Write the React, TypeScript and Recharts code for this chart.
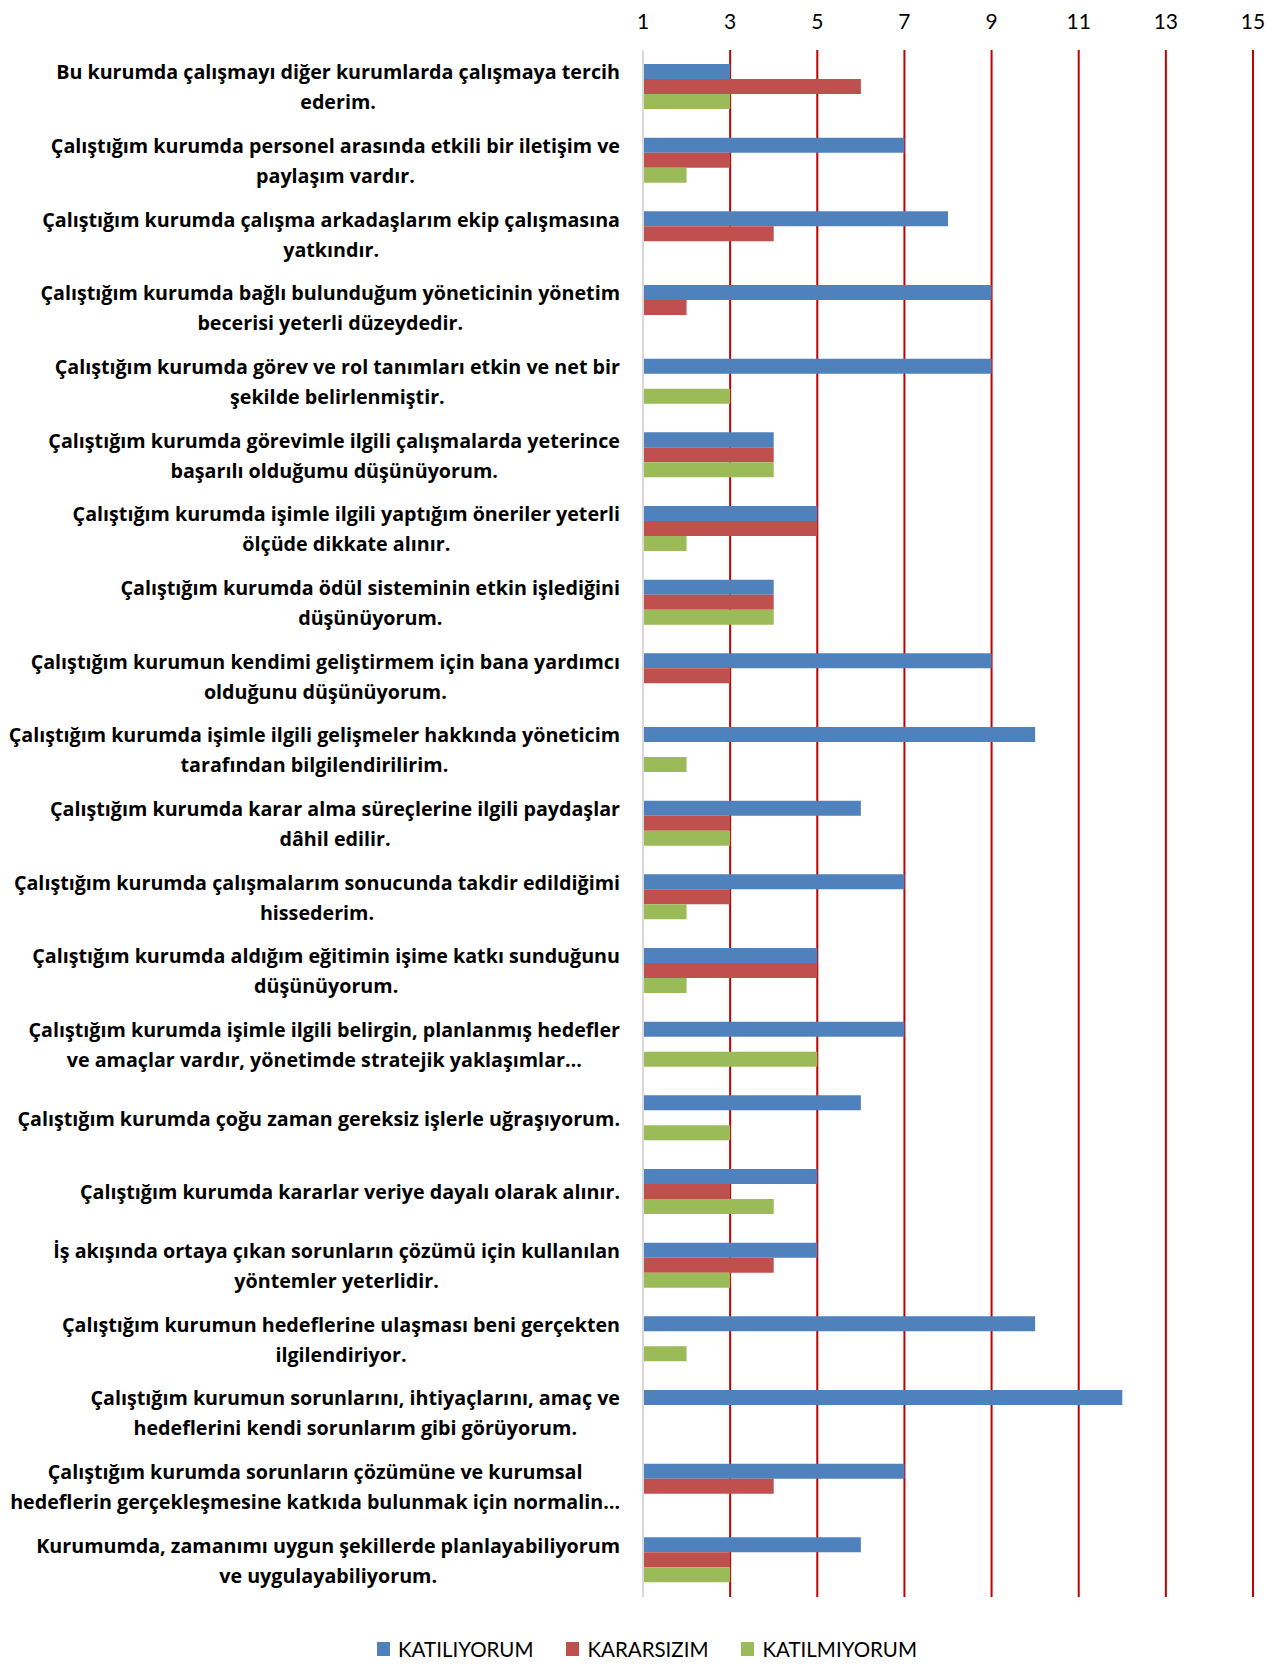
import React from 'react';
import { BarChart, Bar, XAxis, YAxis, CartesianGrid, Legend } from 'recharts';

const labels: string[][] = [
  ['Bu kurumda çalışmayı diğer kurumlarda çalışmaya tercih', 'ederim.'],
  ['Çalıştığım kurumda personel arasında etkili bir iletişim ve', 'paylaşım vardır.'],
  ['Çalıştığım kurumda çalışma arkadaşlarım ekip çalışmasına', 'yatkındır.'],
  ['Çalıştığım kurumda bağlı bulunduğum yöneticinin yönetim', 'becerisi yeterli düzeydedir.'],
  ['Çalıştığım kurumda görev ve rol tanımları etkin ve net bir', 'şekilde belirlenmiştir.'],
  ['Çalıştığım kurumda görevimle ilgili çalışmalarda yeterince', 'başarılı olduğumu düşünüyorum.'],
  ['Çalıştığım kurumda işimle ilgili yaptığım öneriler yeterli', 'ölçüde dikkate alınır.'],
  ['Çalıştığım kurumda ödül sisteminin etkin işlediğini', 'düşünüyorum.'],
  ['Çalıştığım kurumun kendimi geliştirmem için bana yardımcı', 'olduğunu düşünüyorum.'],
  ['Çalıştığım kurumda işimle ilgili gelişmeler hakkında yöneticim', 'tarafından bilgilendirilirim.'],
  ['Çalıştığım kurumda karar alma süreçlerine ilgili paydaşlar', 'dâhil edilir.'],
  ['Çalıştığım kurumda çalışmalarım sonucunda takdir edildiğimi', 'hissederim.'],
  ['Çalıştığım kurumda aldığım eğitimin işime katkı sunduğunu', 'düşünüyorum.'],
  ['Çalıştığım kurumda işimle ilgili belirgin, planlanmış hedefler', 've amaçlar vardır, yönetimde stratejik yaklaşımlar…'],
  ['Çalıştığım kurumda çoğu zaman gereksiz işlerle uğraşıyorum.'],
  ['Çalıştığım kurumda kararlar veriye dayalı olarak alınır.'],
  ['İş akışında ortaya çıkan sorunların çözümü için kullanılan', 'yöntemler yeterlidir.'],
  ['Çalıştığım kurumun hedeflerine ulaşması beni gerçekten', 'ilgilendiriyor.'],
  ['Çalıştığım kurumun sorunlarını, ihtiyaçlarını, amaç ve', 'hedeflerini kendi sorunlarım gibi görüyorum.'],
  ['Çalıştığım kurumda sorunların çözümüne ve kurumsal', 'hedeflerin gerçekleşmesine katkıda bulunmak için normalin…'],
  ['Kurumumda, zamanımı uygun şekillerde planlayabiliyorum', 've uygulayabiliyorum.'],
];

const katiliyorum: (number | null)[] = [3, 7, 8, 9, 9, 4, 5, 4, 9, 10, 6, 7, 5, 7, 6, 5, 5, 10, 12, 7, 6];
const kararsizim: (number | null)[] = [6, 3, 4, 2, null, 4, 5, 4, 3, null, 3, 3, 5, null, null, 3, 4, null, null, 4, 3];
const katilmiyorum: (number | null)[] = [3, 2, null, null, 3, 4, 2, 4, null, 2, 3, 2, 2, 5, 3, 4, 3, 2, null, null, 3];

const xTicks = [1, 3, 5, 7, 9, 11, 13, 15];

const seriesNames = ['KATILIYORUM', 'KARARSIZIM', 'KATILMIYORUM'];
const seriesColors = ['#4F81BD', '#C0504D', '#9BBB59'];

const data = labels.map((l, i) => ({
  key: String(i),
  k1: katiliyorum[i],
  k2: kararsizim[i],
  k3: katilmiyorum[i],
}));

const LABEL_SIZE = 19.7;
const LABEL_FAMILY = 'Open Sans';
let ctx: CanvasRenderingContext2D | null = null;
function measure(t: string): number {
  if (!ctx) {
    const c = document.createElement('canvas');
    ctx = c.getContext('2d');
  }
  if (!ctx) return t.length * 10;
  ctx.font = `bold ${LABEL_SIZE}px "${LABEL_FAMILY}"`;
  return ctx.measureText(t).width;
}

const YTick = (props: any) => {
  const { x, y, payload } = props;
  const lines = labels[Number(payload.value)] || [];
  const right = x - 15;
  const w = Math.max(...lines.map(measure));
  const cx = right - w / 2;
  const n = lines.length;
  return (
    <g>
      {lines.map((ln, i) => (
        <text
          key={i}
          x={cx}
          y={y + (i - (n - 1) / 2) * 30}
          textAnchor="middle"
          dominantBaseline="central"
          fontFamily={LABEL_FAMILY}
          fontWeight="bold"
          fontSize={LABEL_SIZE}
          fill="#000"
        >
          {ln}
        </text>
      ))}
    </g>
  );
};

const XTick = (props: any) => {
  const { x, payload } = props;
  return (
    <text x={x} y={20} textAnchor="middle" dominantBaseline="central" fontFamily="Lato" fontSize={21} fill="#000">
      {payload.value}
    </text>
  );
};

const LegendContent = () => (
  <div style={{ display: 'flex', justifyContent: 'center', alignItems: 'center', height: 26, fontFamily: 'Lato', fontSize: 20.5, color: '#000' }}>
    {seriesNames.map((n, i) => (
      <div key={n} style={{ display: 'flex', alignItems: 'center', marginRight: i < 2 ? 33 : 0 }}>
        <div style={{ width: 13, height: 14, background: seriesColors[i], marginRight: 8 }} />
        <span>{n}</span>
      </div>
    ))}
  </div>
);

export default function App() {
  return (
    <div style={{ position: 'absolute', left: 0, top: 0, width: 1272, height: 1664, background: '#fff' }}>
      <BarChart
        width={1272}
        height={1664}
        data={data}
        layout="vertical"
        margin={{ top: 0, right: 19, left: 0, bottom: 41 }}
        barGap={0}
        barSize={15}
      >
        <CartesianGrid horizontal={false} vertical={true} stroke="#C00000" strokeWidth={2} />
        <XAxis
          type="number"
          orientation="top"
          domain={[1, 15]}
          ticks={xTicks}
          height={50}
          axisLine={false}
          tickLine={false}
          tick={<XTick />}
          interval={0}
        />
        <YAxis
          type="category"
          dataKey="key"
          width={643}
          tickLine={false}
          axisLine={{ stroke: '#D9D9D9', strokeWidth: 2 }}
          tick={<YTick />}
          interval={0}
        />
        <Legend
          verticalAlign="bottom"
          content={<LegendContent />}
          wrapperStyle={{ top: 1636, bottom: 'auto', left: 0, width: 1294, height: 26 }}
        />
        <Bar dataKey="k1" name={seriesNames[0]} fill={seriesColors[0]} isAnimationActive={false} />
        <Bar dataKey="k2" name={seriesNames[1]} fill={seriesColors[1]} isAnimationActive={false} />
        <Bar dataKey="k3" name={seriesNames[2]} fill={seriesColors[2]} isAnimationActive={false} />
      </BarChart>
    </div>
  );
}
